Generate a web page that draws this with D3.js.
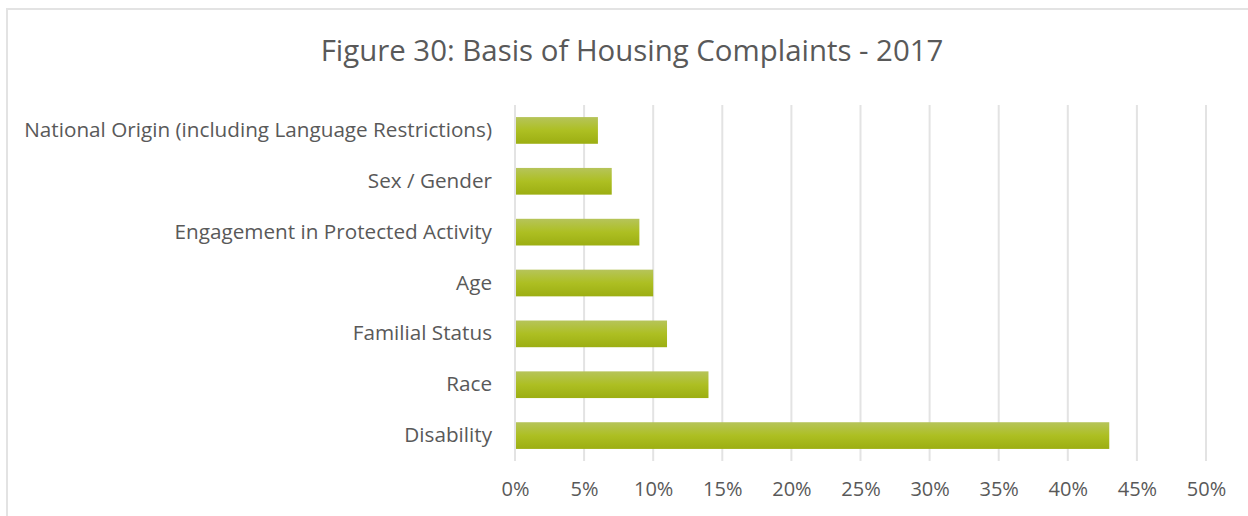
<!DOCTYPE html>
<html>
<head>
<meta charset="utf-8">
<script src="https://d3js.org/d3.v7.min.js"></script>
<style>
  body { margin: 0; background: #fff; }
  text { font-family: "Open Sans", sans-serif; fill: #595959; }
</style>
</head>
<body>
<script>
// basis categories, top to bottom
var categories = ["National Origin (including Language Restrictions)", "Sex / Gender",
  "Engagement in Protected Activity", "Age", "Familial Status", "Race", "Disability"];
var shares = [6, 7, 9, 10, 11, 14, 43];
var ticks = [0, 5, 10, 15, 20, 25, 30, 35, 40, 45, 50];

var width = 1248, height = 516;
var svg = d3.select("body").append("svg")
  .attr("width", width).attr("height", height);

var defs = svg.append("defs");
var grad = defs.append("linearGradient").attr("id", "barfill")
  .attr("x1", 0).attr("y1", 0).attr("x2", 0).attr("y2", 1);
grad.append("stop").attr("offset", "0%").attr("stop-color", "#b6c45a");
grad.append("stop").attr("offset", "50%").attr("stop-color", "#adbf22");
grad.append("stop").attr("offset", "100%").attr("stop-color", "#9cae12");

// chart frame
svg.append("rect")
  .attr("x", 7).attr("y", 9).attr("width", 1260).attr("height", 540)
  .attr("fill", "none").attr("stroke", "#e3e3e3").attr("stroke-width", 2);

svg.append("text")
  .attr("x", 632).attr("y", 61)
  .attr("text-anchor", "middle")
  .style("font-size", "29.4px")
  .text("Figure 30: Basis of Housing Complaints - 2017");

var x = d3.scaleLinear().domain([0, 50]).range([515, 1206]);
var y = d3.scaleBand().domain(categories).range([105, 461]).paddingInner(0.475).paddingOuter(0.2375);

// gridlines
svg.append("g").selectAll("line").data(ticks).join("line")
  .attr("x1", d => x(d)).attr("x2", d => x(d))
  .attr("y1", 105).attr("y2", 461)
  .attr("stroke", "#e3e3e3").attr("stroke-width", 2);

svg.append("g").selectAll("rect").data(shares).join("rect")
  .attr("x", x(0) + 1)
  .attr("y", (d, i) => y(categories[i]))
  .attr("width", d => x(d) - x(0) - 1)
  .attr("height", y.bandwidth())
  .attr("fill", "url(#barfill)");

var xAxis = svg.append("g").attr("transform", "translate(0,461)")
  .call(d3.axisBottom(x).tickValues(ticks).tickFormat(d => d + "%").tickSize(0).tickPadding(21));
xAxis.select(".domain").remove();
xAxis.selectAll("text").style("font-size", "20px").attr("fill", "#595959");

var yAxis = svg.append("g").attr("transform", "translate(515,0)")
  .call(d3.axisLeft(y).tickSize(0).tickPadding(23));
yAxis.select(".domain").remove();
yAxis.selectAll("text").style("font-size", "20.7px").attr("fill", "#595959");
</script>
</body>
</html>
